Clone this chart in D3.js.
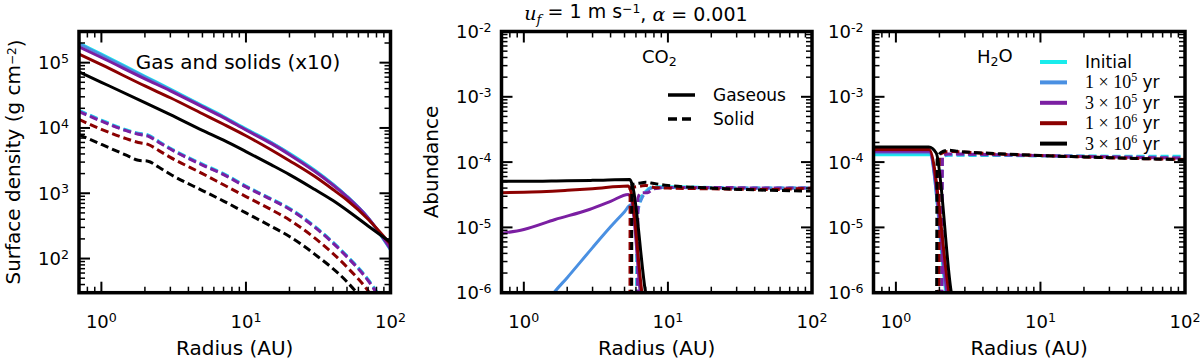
<!DOCTYPE html>
<html>
<head>
<meta charset="utf-8">
<script src="https://cdn.jsdelivr.net/npm/d3@7"></script>
<style>
  body { margin: 0; background: #fff; }
  text { font-family: "DejaVu Sans", sans-serif; fill: #000; }
</style>
</head>
<body>
<svg id="fig" width="1200" height="359"></svg>
<script>
// ---- data ----
const seriesNames  = ["Initial", "1e5", "3e5", "1e6", "3e6"];
const seriesColors = ["#19ECEC", "#4A90E2", "#7B1FA2", "#8B0000", "#000000"];

// panel 1: gas surface density (solid) and solids x10 (dashed), g cm^-2
const gasRadius  = [0.7, 1, 2, 3, 5, 7, 10, 15, 20, 30, 40, 50, 70, 100];
const gasInitial = [2.0e5, 1.35e5, 6.2e4, 3.95e4, 2.2e4, 1.5e4, 9.7e3, 6.0e3, 4.1e3, 2.25e3, 1.38e3, 900, 420, 135];
const gas1e5     = [1.95e5, 1.31e5, 6.0e4, 3.85e4, 2.15e4, 1.47e4, 9.5e3, 5.9e3, 4.0e3, 2.2e3, 1.36e3, 890, 420, 138];
const gas3e5     = [1.74e5, 1.2e5, 5.65e4, 3.7e4, 2.1e4, 1.44e4, 9.3e3, 5.75e3, 3.9e3, 2.15e3, 1.33e3, 880, 420, 141];
const gas1e6     = [1.35e5, 9.3e4, 4.4e4, 2.9e4, 1.65e4, 1.14e4, 7.6e3, 4.6e3, 3.15e3, 1.8e3, 1.14e3, 785, 400, 166];
const gas3e6     = [7.2e4, 5.0e4, 2.45e4, 1.6e4, 9.2e3, 6.5e3, 4.35e3, 2.72e3, 1.93e3, 1.14e3, 775, 550, 316, 178];

const dustRadius  = [0.7, 1, 1.5, 1.8, 2.1, 2.5, 3, 5, 7, 10, 15, 20, 30, 50, 70, 100];
const dustInitial = [1.86e4, 1.32e4, 9.3e3, 8.3e3, 7.8e3, 6.2e3, 4.9e3, 2.8e3, 2.0e3, 1.29e3, 820, 590, 310, 110, 48, 14];
const dust1e5     = [1.82e4, 1.3e4, 9.1e3, 8.2e3, 7.7e3, 6.1e3, 4.8e3, 2.75e3, 1.96e3, 1.27e3, 810, 580, 305, 108, 47, 14];
const dust3e5     = [1.78e4, 1.27e4, 9.0e3, 8.0e3, 7.5e3, 6.0e3, 4.75e3, 2.7e3, 1.93e3, 1.25e3, 800, 570, 300, 106, 46, 13];
const dust1e6     = [1.35e4, 9.5e3, 6.8e3, 6.0e3, 5.6e3, 4.5e3, 3.55e3, 2.0e3, 1.35e3, 890, 560, 390, 205, 74, 32, 9];
const dust3e6     = [7.9e3, 5.6e3, 3.8e3, 3.2e3, 3.1e3, 2.5e3, 1.95e3, 1.1e3, 760, 500, 310, 218, 116, 44, 18, 5];

// panel 2: CO2 abundance, gaseous (solid) and solid (dashed)
const co2GasR1e5 = [1.5, 1.62, 2, 3, 4, 5, 5.5, 5.75, 6.45, 6.8];
const co2Gas1e5  = [7.9e-7, 1e-6, 1.7e-6, 4.9e-6, 1.02e-5, 1.74e-5, 2.2e-5, 1.9e-5, 1e-6, 4e-7];
const co2GasR3e5 = [0.7, 1, 1.65, 2.85, 4, 5.3, 5.6, 6.45, 6.8];
const co2Gas3e5  = [8.1e-6, 9.3e-6, 1.32e-5, 1.88e-5, 2.5e-5, 3.2e-5, 2.6e-5, 1e-6, 4e-7];
const co2GasR1e6 = [0.7, 1, 2, 3, 5.3, 5.55, 6.6, 6.9];
const co2Gas1e6  = [3.4e-5, 3.45e-5, 3.7e-5, 3.9e-5, 4.3e-5, 3.5e-5, 1e-6, 5e-7];
const co2GasR3e6 = [0.7, 1, 2, 3, 5.45, 5.7, 7.0, 7.3];
const co2Gas3e6  = [5.1e-5, 5.1e-5, 5.2e-5, 5.25e-5, 5.4e-5, 4.2e-5, 1e-6, 6e-7];

const co2SolR0   = [6.05, 6.1, 6.5, 7, 8, 10, 20, 50, 100];
const co2Sol0    = [1e-7, 1.78e-5, 2.8e-5, 3.55e-5, 4.2e-5, 4.2e-5, 4.1e-5, 4.0e-5, 4.0e-5];
const co2SolR1e5 = [6.1, 6.15, 6.6, 7, 8, 10, 20, 50, 100];
const co2Sol1e5  = [1e-7, 1.6e-5, 2.8e-5, 3.4e-5, 4.1e-5, 4.1e-5, 4.0e-5, 4.0e-5, 4.0e-5];
const co2SolR3e5 = [6.15, 6.2, 6.5, 7.2, 8, 10, 20, 50, 100];
const co2Sol3e5  = [1e-7, 2.8e-5, 3.4e-5, 3.4e-5, 3.9e-5, 4.1e-5, 4.1e-5, 4.0e-5, 4.0e-5];
const co2SolR1e6 = [5.45, 5.47, 6.5, 7, 8, 10, 20, 50, 100];
const co2Sol1e6  = [1e-7, 4.0e-5, 4.3e-5, 4.4e-5, 4.1e-5, 4.0e-5, 3.9e-5, 3.8e-5, 4.0e-5];
const co2SolR3e6 = [5.6, 5.62, 6.5, 7, 8, 10, 20, 50, 100];
const co2Sol3e6  = [1e-7, 4.5e-5, 4.8e-5, 4.9e-5, 4.7e-5, 4.4e-5, 4.0e-5, 3.7e-5, 3.6e-5];

// panel 3: H2O abundance
const h2oGasR0   = [0.7, 1.72, 2.22, 2.4];
const h2oGas0    = [1.3e-4, 1.3e-4, 1e-6, 4e-7];
const h2oGasR1e5 = [0.7, 1.7, 2.24, 2.4];
const h2oGas1e5  = [1.39e-4, 1.39e-4, 1e-6, 4e-7];
const h2oGasR3e5 = [0.7, 1.7, 2.26, 2.4];
const h2oGas3e5  = [1.47e-4, 1.47e-4, 1e-6, 4e-7];
const h2oGasR1e6 = [0.7, 1.7, 2.33, 2.5];
const h2oGas1e6  = [1.56e-4, 1.56e-4, 1e-6, 4e-7];
const h2oGasR3e6 = [0.7, 1, 1.69, 1.9, 2.42, 2.6];
const h2oGas3e6  = [1.7e-4, 1.7e-4, 1.7e-4, 1.38e-4, 1e-6, 5e-7];

const h2oSolR0   = [2.06, 2.08, 2.3, 5, 10, 20, 50, 100];
const h2oSol0    = [1e-7, 1.2e-4, 1.27e-4, 1.26e-4, 1.25e-4, 1.24e-4, 1.23e-4, 1.23e-4];
const h2oSolR1e5 = [2.07, 2.09, 2.3, 5, 10, 20, 50, 100];
const h2oSol1e5  = [1e-7, 1.2e-4, 1.3e-4, 1.28e-4, 1.25e-4, 1.23e-4, 1.2e-4, 1.18e-4];
const h2oSolR3e5 = [2.08, 2.1, 2.3, 5, 10, 20, 50, 100];
const h2oSol3e5  = [1e-7, 1.25e-4, 1.33e-4, 1.3e-4, 1.26e-4, 1.22e-4, 1.18e-4, 1.15e-4];
const h2oSolR1e6 = [1.98, 2.0, 2.3, 5, 10, 20, 50, 100];
const h2oSol1e6  = [1e-7, 1.3e-4, 1.45e-4, 1.33e-4, 1.26e-4, 1.2e-4, 1.13e-4, 1.1e-4];
const h2oSolR3e6 = [1.91, 1.93, 2.05, 2.3, 2.63, 5, 10, 20, 50, 100];
const h2oSol3e6  = [1e-7, 1.1e-4, 1.4e-4, 1.52e-4, 1.47e-4, 1.35e-4, 1.26e-4, 1.2e-4, 1.13e-4, 1.08e-4];

const legendLabels = [["Initial"], ["1", "5"], ["3", "5"], ["1", "6"], ["3", "6"]];

// ---- layout ----
const svg = d3.select("#fig");
const plotTop = 31.5, plotBottom = 292.7;
const panelX = [[79, 390.5], [501.5, 812], [873.5, 1185]];
const xDomain = [0.7, 100];

const pairs = (rs, vs) => rs.map((r, i) => [r, vs[i]]);

function makePanel(idx, yDomain) {
  const [l, r] = panelX[idx];
  const x = d3.scaleLog().domain(xDomain).range([l, r]);
  const y = d3.scaleLog().domain(yDomain).range([plotBottom, plotTop]);
  svg.append("clipPath").attr("id", "clip" + idx)
    .append("rect").attr("x", l).attr("y", plotTop).attr("width", r - l).attr("height", plotBottom - plotTop);
  const plot = svg.append("g").attr("clip-path", `url(#clip${idx})`);
  return { x, y, plot, l, r };
}

function drawCurve(p, data, color, dashed) {
  const line = d3.line().x(d => p.x(d[0])).y(d => p.y(d[1])).curve(d3.curveMonotoneX);
  p.plot.append("path")
    .attr("d", line(data))
    .attr("fill", "none")
    .attr("stroke", color)
    .attr("stroke-width", 3)
    .attr("stroke-dasharray", dashed ? "8,4" : null);
}

function supLabel(sel, exp) {
  sel.append("tspan").text("10");
  sel.append("tspan").attr("dy", "-0.5em").attr("font-size", "0.7em").text(exp);
}

function drawFrame(p, labelFmt) {
  const g = svg.append("g");
  const isMajor = v => Math.abs(Math.log10(v) - Math.round(Math.log10(v))) < 1e-6;
  // x ticks top and bottom
  p.x.ticks().forEach(v => {
    const len = isMajor(v) ? 11 : 6;
    const xx = p.x(v);
    g.append("line").attr("x1", xx).attr("x2", xx).attr("y1", plotBottom).attr("y2", plotBottom - len)
      .attr("stroke", "#000").attr("stroke-width", isMajor(v) ? 2 : 1.5);
    g.append("line").attr("x1", xx).attr("x2", xx).attr("y1", plotTop).attr("y2", plotTop + len)
      .attr("stroke", "#000").attr("stroke-width", isMajor(v) ? 2 : 1.5);
    if (isMajor(v)) {
      g.append("text").attr("x", xx).attr("y", 328).attr("text-anchor", "middle")
        .attr("font-size", 18).call(supLabel, String(Math.round(Math.log10(v))));
    }
  });
  // y ticks left and right
  p.y.ticks().forEach(v => {
    const len = isMajor(v) ? 11 : 6;
    const yy = p.y(v);
    g.append("line").attr("x1", p.l).attr("x2", p.l + len).attr("y1", yy).attr("y2", yy)
      .attr("stroke", "#000").attr("stroke-width", isMajor(v) ? 2 : 1.5);
    g.append("line").attr("x1", p.r).attr("x2", p.r - len).attr("y1", yy).attr("y2", yy)
      .attr("stroke", "#000").attr("stroke-width", isMajor(v) ? 2 : 1.5);
    if (isMajor(v)) {
      g.append("text").attr("x", p.l - 10).attr("y", yy + 6.5).attr("text-anchor", "end")
        .attr("font-size", 18).call(supLabel, labelFmt(Math.round(Math.log10(v))));
    }
  });
  g.append("rect").attr("x", p.l).attr("y", plotTop).attr("width", p.r - p.l).attr("height", plotBottom - plotTop)
    .attr("fill", "none").attr("stroke", "#000").attr("stroke-width", 3.5);
  // x label
  g.append("text").attr("x", (p.l + p.r) / 2).attr("y", 355).attr("text-anchor", "middle")
    .attr("font-size", 20).text("Radius (AU)");
}

// ---- panel 1 ----
const p1 = makePanel(0, [30, 3e5]);
const gasSeries  = [gasInitial, gas1e5, gas3e5, gas1e6, gas3e6];
const dustSeries = [dustInitial, dust1e5, dust3e5, dust1e6, dust3e6];
seriesNames.forEach((n, i) => {
  drawCurve(p1, pairs(gasRadius, gasSeries[i]), seriesColors[i], false);
  drawCurve(p1, pairs(dustRadius, dustSeries[i]), seriesColors[i], true);
});
drawFrame(p1, e => String(e));
svg.append("text").attr("x", 238).attr("y", 69).attr("text-anchor", "middle")
  .attr("font-size", 20).text("Gas and solids (x10)");
svg.append("text").attr("transform", "translate(20,162) rotate(-90)").attr("text-anchor", "middle")
  .attr("font-size", 20)
  .call(t => {
    t.append("tspan").text("Surface density (g cm");
    t.append("tspan").attr("dy", "-0.35em").attr("font-size", "0.6em").text("\u22122");
    t.append("tspan").attr("dy", "0.35em").text(")");
  });

// ---- panel 2 ----
const p2 = makePanel(1, [1e-6, 1e-2]);
const co2Gas = [null, [co2GasR1e5, co2Gas1e5], [co2GasR3e5, co2Gas3e5], [co2GasR1e6, co2Gas1e6], [co2GasR3e6, co2Gas3e6]];
const co2Sol = [[co2SolR0, co2Sol0], [co2SolR1e5, co2Sol1e5], [co2SolR3e5, co2Sol3e5], [co2SolR1e6, co2Sol1e6], [co2SolR3e6, co2Sol3e6]];
seriesNames.forEach((n, i) => {
  if (co2Gas[i]) drawCurve(p2, pairs(co2Gas[i][0], co2Gas[i][1]), seriesColors[i], false);
  drawCurve(p2, pairs(co2Sol[i][0], co2Sol[i][1]), seriesColors[i], true);
});
drawFrame(p2, e => "-" + Math.abs(e));
svg.append("text").attr("x", 642).attr("y", 63).attr("font-size", 18)
  .call(t => {
    t.append("tspan").text("CO");
    t.append("tspan").attr("dy", "0.25em").attr("font-size", "0.7em").text("2");
  });
svg.append("text").attr("transform", "translate(438,162) rotate(-90)").attr("text-anchor", "middle")
  .attr("font-size", 20).text("Abundance");

// legend gaseous / solid
[["Gaseous", false], ["Solid", true]].forEach(([lab, dashed], i) => {
  const yy = 95 + i * 24;
  svg.append("line").attr("x1", 668).attr("x2", 695).attr("y1", yy).attr("y2", yy)
    .attr("stroke", "#000").attr("stroke-width", 3.5).attr("stroke-dasharray", dashed ? "9,5" : null);
  svg.append("text").attr("x", 713).attr("y", yy + 6).attr("font-size", 17).text(lab);
});

// title
svg.append("text").attr("x", 636).attr("y", 20).attr("text-anchor", "middle").attr("font-size", 19)
  .call(t => {
    t.append("tspan").attr("font-family", "DejaVu Serif").attr("font-style", "italic").text("u");
    t.append("tspan").attr("font-family", "DejaVu Serif").attr("font-style", "italic")
      .attr("font-size", "0.7em").attr("dy", "0.3em").text("f");
    t.append("tspan").attr("dy", "-0.3em").text(" = 1 m s");
    t.append("tspan").attr("dy", "-0.4em").attr("font-size", "0.65em").text("\u22121");
    t.append("tspan").attr("dy", "0.4em").text(", ");
    t.append("tspan").attr("font-family", "DejaVu Serif").attr("font-style", "italic").text("\u03b1");
    t.append("tspan").text(" = 0.001");
  });

// ---- panel 3 ----
const p3 = makePanel(2, [1e-6, 1e-2]);
const h2oGas = [[h2oGasR0, h2oGas0], [h2oGasR1e5, h2oGas1e5], [h2oGasR3e5, h2oGas3e5], [h2oGasR1e6, h2oGas1e6], [h2oGasR3e6, h2oGas3e6]];
const h2oSol = [[h2oSolR0, h2oSol0], [h2oSolR1e5, h2oSol1e5], [h2oSolR3e5, h2oSol3e5], [h2oSolR1e6, h2oSol1e6], [h2oSolR3e6, h2oSol3e6]];
seriesNames.forEach((n, i) => {
  drawCurve(p3, pairs(h2oGas[i][0], h2oGas[i][1]), seriesColors[i], false);
  drawCurve(p3, pairs(h2oSol[i][0], h2oSol[i][1]), seriesColors[i], true);
});
drawFrame(p3, e => "-" + Math.abs(e));
svg.append("text").attr("x", 977).attr("y", 63).attr("font-size", 18)
  .call(t => {
    t.append("tspan").text("H");
    t.append("tspan").attr("dy", "0.25em").attr("font-size", "0.7em").text("2");
    t.append("tspan").attr("dy", "-0.25em").text("O");
  });

// legend of times
legendLabels.forEach((lab, i) => {
  const yy = 62 + i * 20.4;
  svg.append("line").attr("x1", 1040).attr("x2", 1067).attr("y1", yy).attr("y2", yy)
    .attr("stroke", seriesColors[i]).attr("stroke-width", 4);
  const t = svg.append("text").attr("x", 1085).attr("y", yy + 6).attr("font-size", 17);
  if (lab.length === 1) {
    t.text(lab[0]);
  } else {
    t.append("tspan").attr("font-family", "Liberation Serif").attr("font-size", 18).text(lab[0] + " \u00d7 10");
    t.append("tspan").attr("font-family", "Liberation Serif").attr("font-size", 12).attr("dy", -7).text(lab[1]);
    t.append("tspan").attr("dy", 7).text(" yr");
  }
});
</script>
</body>
</html>
